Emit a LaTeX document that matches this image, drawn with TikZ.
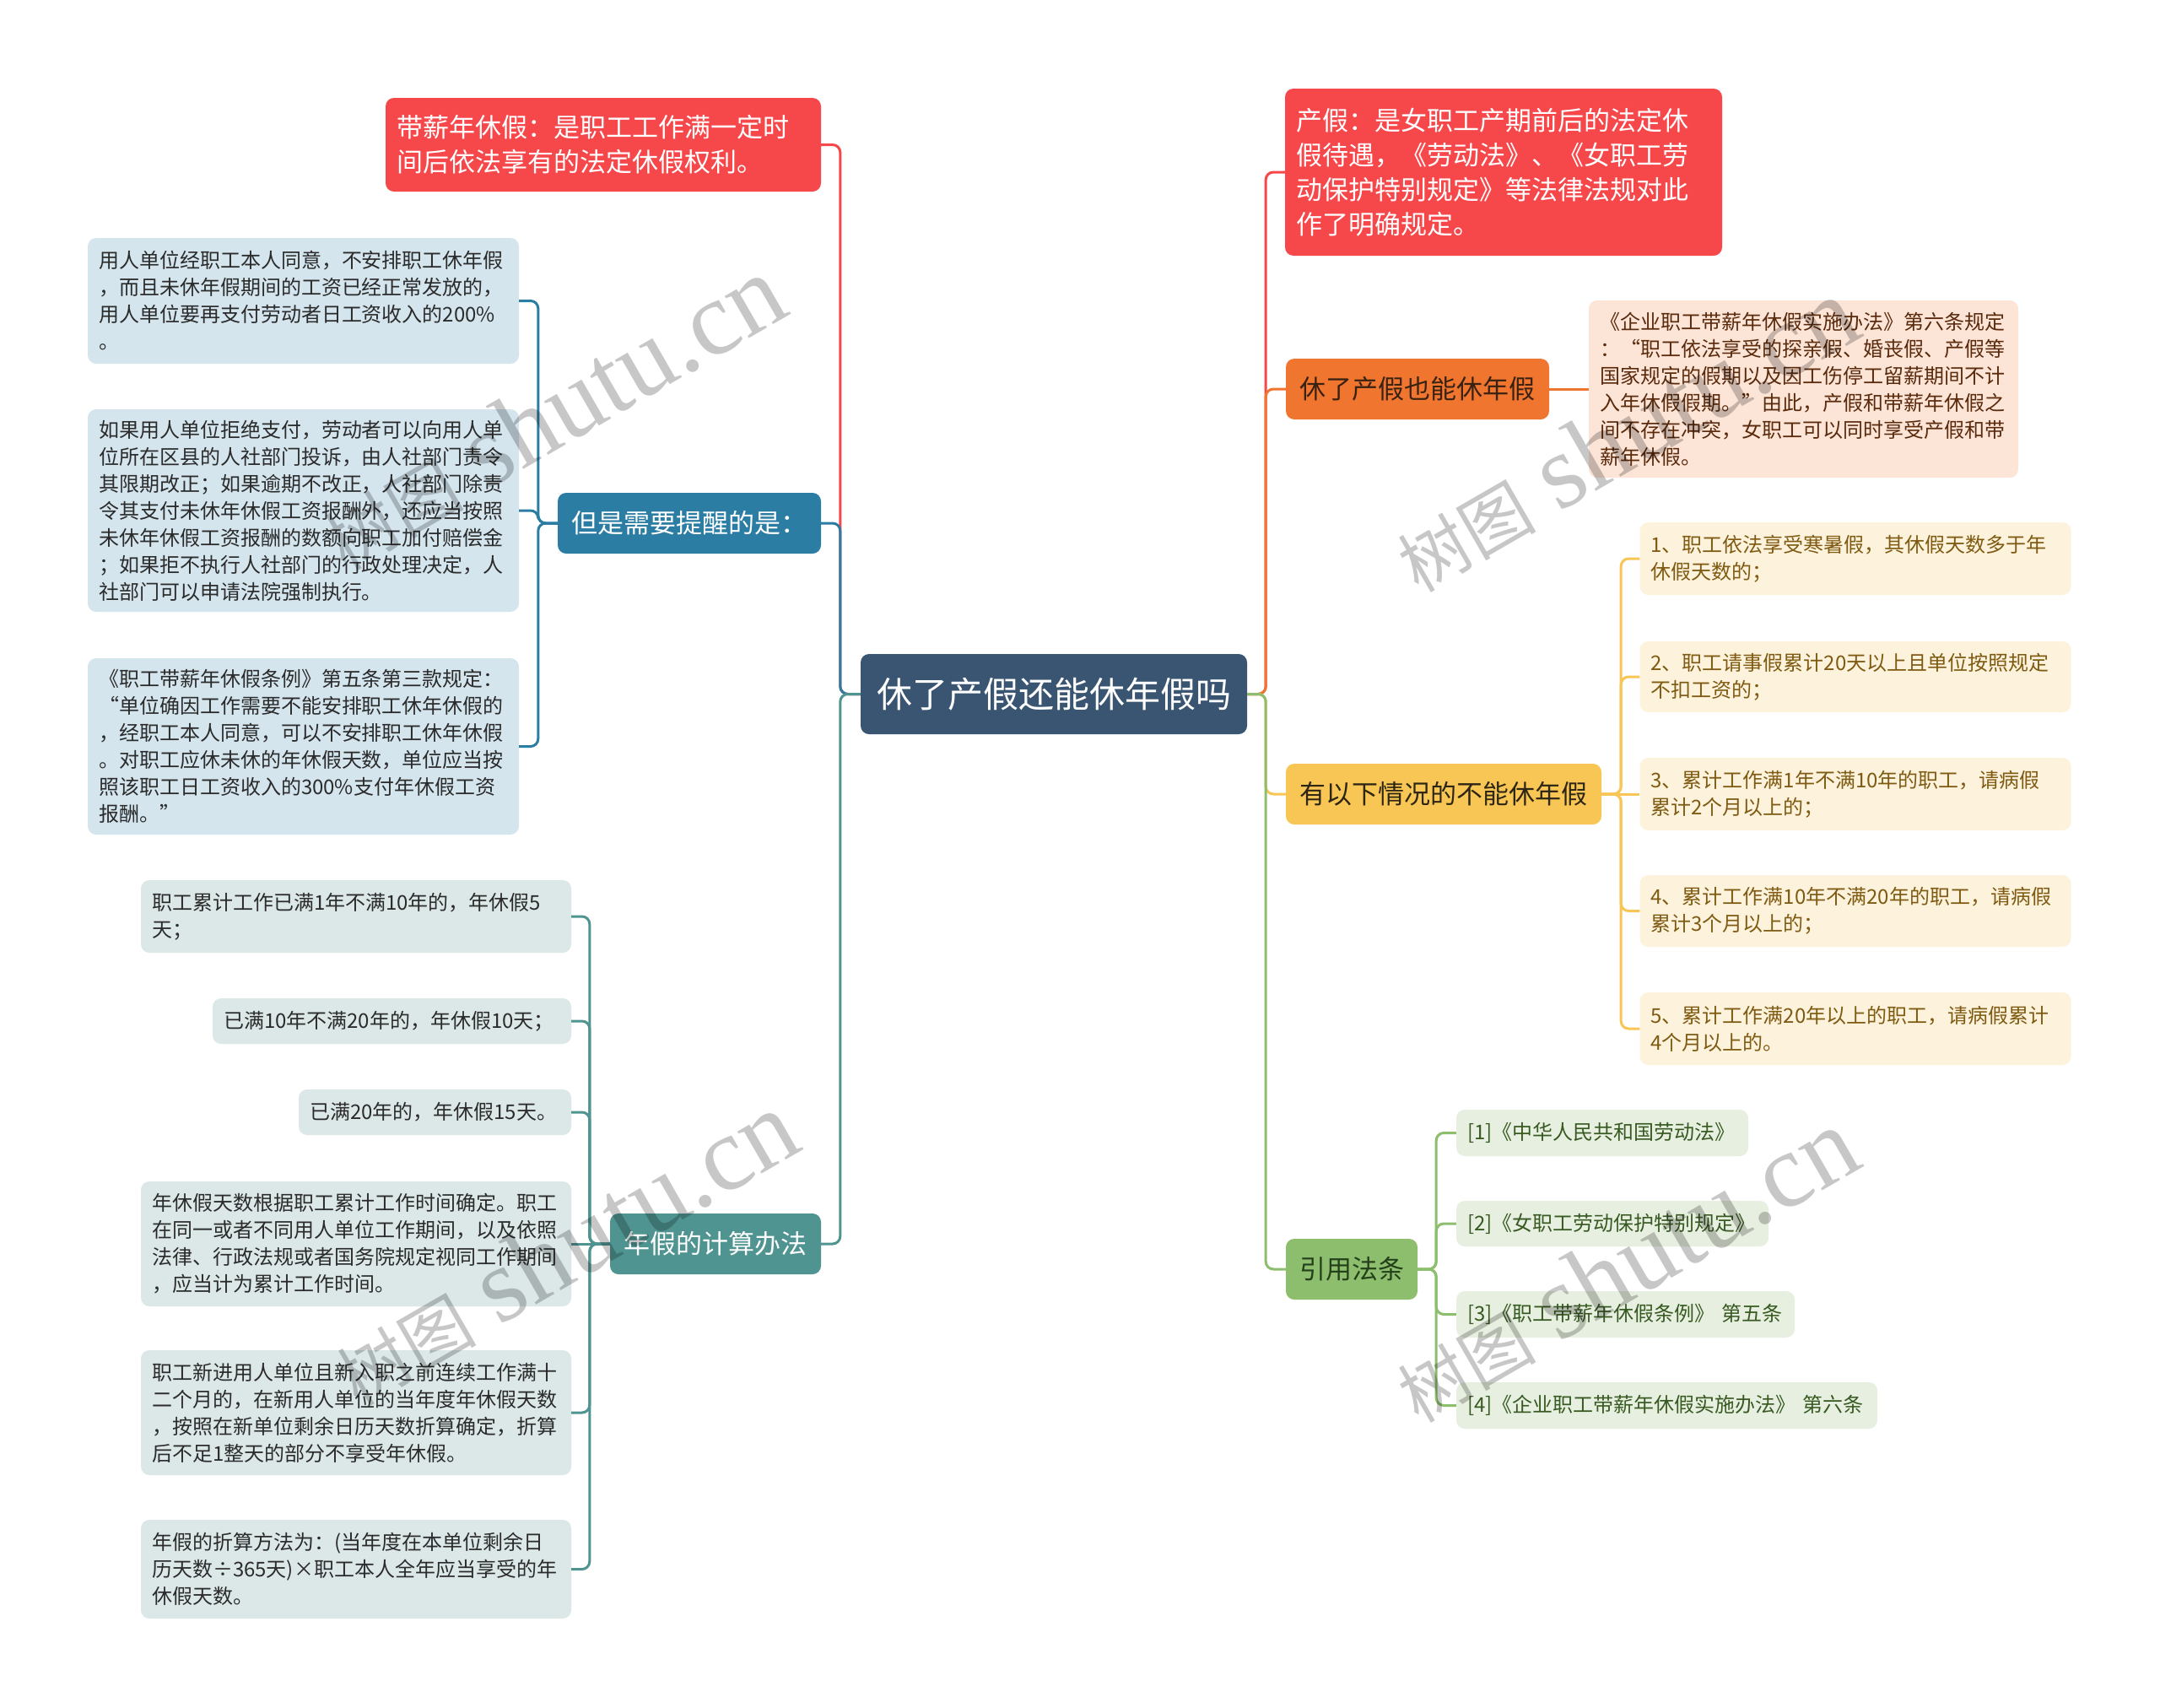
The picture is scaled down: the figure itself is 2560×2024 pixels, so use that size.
\documentclass[tikz,border=0pt]{standalone}
\usepackage{fontspec}
\setmainfont{Noto Sans CJK SC}
\newfontfamily\wmfont{Liberation Serif}
\usepackage{tikz}
\definecolor{rootbg}{HTML}{395571}
\definecolor{redbr}{HTML}{F6484B}
\definecolor{bluebr}{HTML}{2B7DA3}
\definecolor{bluelf}{HTML}{D4E5EE}
\definecolor{tealbr}{HTML}{4F9490}
\definecolor{teallf}{HTML}{DCE8E8}
\definecolor{orgbr}{HTML}{F07630}
\definecolor{orgdk}{HTML}{3A2212}
\definecolor{orglf}{HTML}{FCE4D6}
\definecolor{orgtx}{HTML}{5A2A0C}
\definecolor{yelbr}{HTML}{F8C655}
\definecolor{yeldk}{HTML}{2E2614}
\definecolor{yellf}{HTML}{FDF3DC}
\definecolor{yeltx}{HTML}{7F5A12}
\definecolor{grnbr}{HTML}{8DBE6E}
\definecolor{grndk}{HTML}{24401A}
\definecolor{grnlf}{HTML}{E7F0E0}
\definecolor{grntx}{HTML}{385A22}
\definecolor{darktx}{HTML}{2B2B2B}
\newcommand\txS{\fontsize{24}{32}\selectfont}
\newcommand\txM{\fontsize{31}{41}\selectfont}
\newcommand\txL{\fontsize{42}{50}\selectfont}

\begin{document}
\begin{tikzpicture}[x=1pt, y=-1pt,
    box/.style={rounded corners=10pt, inner sep=0pt},
    sz/.style 2 args={minimum width=#1pt, minimum height=#2pt, text width=#1pt-26pt},
    mn/.style={box, font=\txM, minimum height=72pt},
    lf/.style={box, align=left, font=\txS},
    blf/.style={lf, fill=bluelf, text=darktx},
    tlf/.style={lf, fill=teallf, text=darktx},
    plf/.style={lf, fill=orglf, text=orgtx},
    ylf/.style={lf, fill=yellf, text=yeltx},
    glf/.style={lf, fill=grnlf, text=grntx},
    lk/.style={line width=3pt, rounded corners=9pt},
    wm/.style={rotate=30, inner sep=0pt, text=black, text opacity=0.22}]
  \fill[white] (0,0) rectangle (2560,2024);
  \useasboundingbox (0,0) rectangle (2560,2024);
  % centre
  \node[box, fill=rootbg, text=white, font=\txL, minimum width=458pt,
    minimum height=95pt] (root) at (1249,822.5) {休了产假还能休年假吗};
  % left branches
  \node[mn, fill=redbr, text=white, align=left, sz={516}{111}] (lr) at (715,171.5)
    {带薪年休假：是职工工作满一定时\\间后依法享有的法定休假权利。};
  \node[mn, fill=bluebr, text=white, minimum width=312pt] (bl) at (817,620) {但是需要提醒的是：};
  \node[mn, fill=tealbr, text=white, minimum width=250pt] (tl) at (848,1474) {年假的计算办法};
  % blue leaves
  \node[blf, sz={511}{149}] (b1) at (359.5,356.5)
    {用人单位经职工本人同意，不安排职工休年假\\，而且未休年假期间的工资已经正常发放的，\\用人单位要再支付劳动者日工资收入的200\%\\。};
  \node[blf, sz={511}{240}] (b2) at (359.5,605)
    {如果用人单位拒绝支付，劳动者可以向用人单\\位所在区县的人社部门投诉，由人社部门责令\\其限期改正；如果逾期不改正，人社部门除责\\令其支付未休年休假工资报酬外，还应当按照\\未休年休假工资报酬的数额向职工加付赔偿金\\；如果拒不执行人社部门的行政处理决定，人\\社部门可以申请法院强制执行。};
  \node[blf, sz={511}{209}] (b3) at (359.5,884.5)
    {《职工带薪年休假条例》第五条第三款规定：\\“单位确因工作需要不能安排职工休年休假的\\，经职工本人同意，可以不安排职工休年休假\\。对职工应休未休的年休假天数，单位应当按\\照该职工日工资收入的300\%支付年休假工资\\报酬。”};
  % teal leaves
  \node[tlf, sz={510}{86}] (t1) at (422,1086) {职工累计工作已满1年不满10年的，年休假5\\天；};
  \node[tlf, sz={425}{54}] (t2) at (464.5,1210) {已满10年不满20年的，年休假10天；};
  \node[tlf, sz={323}{54}] (t3) at (515.5,1318) {已满20年的，年休假15天。};
  \node[tlf, sz={510}{148}] (t4) at (422,1474)
    {年休假天数根据职工累计工作时间确定。职工\\在同一或者不同用人单位工作期间，以及依照\\法律、行政法规或者国务院规定视同工作期间\\，应当计为累计工作时间。};
  \node[tlf, sz={510}{148}] (t5) at (422,1674)
    {职工新进用人单位且新入职之前连续工作满十\\二个月的，在新用人单位的当年度年休假天数\\，按照在新单位剩余日历天数折算确定，折算\\后不足1整天的部分不享受年休假。};
  \node[tlf, sz={510}{117}] (t6) at (422,1859.5)
    {年假的折算方法为：(当年度在本单位剩余日\\历天数÷365天)×职工本人全年应当享受的年\\休假天数。};
  % right branches
  \node[mn, fill=redbr, text=white, align=left, sz={518}{198}] (rr) at (1782,204)
    {产假：是女职工产期前后的法定休\\假待遇，《劳动法》、《女职工劳\\动保护特别规定》等法律法规对此\\作了明确规定。};
  \node[mn, fill=orgbr, text=orgdk, minimum width=312pt] (og) at (1680,461) {休了产假也能休年假};
  \node[mn, fill=yelbr, text=yeldk, minimum width=374pt] (yl) at (1711,941) {有以下情况的不能休年假};
  \node[mn, fill=grnbr, text=grndk, minimum width=156pt] (gr) at (1602,1504) {引用法条};
  % peach note
  \node[plf, sz={509}{210}] (pc) at (2137.5,461)
    {《企业职工带薪年休假实施办法》第六条规定\\：“职工依法享受的探亲假、婚丧假、产假等\\国家规定的假期以及因工伤停工留薪期间不计\\入年休假假期。”由此，产假和带薪年休假之\\间不存在冲突，女职工可以同时享受产假和带\\薪年休假。};
  % yellow leaves
  \node[ylf, sz={511}{86}] (y1) at (2199,662) {1、职工依法享受寒暑假，其休假天数多于年\\休假天数的；};
  \node[ylf, sz={511}{84}] (y2) at (2199,802) {2、职工请事假累计20天以上且单位按照规定\\不扣工资的；};
  \node[ylf, sz={511}{86}] (y3) at (2199,941) {3、累计工作满1年不满10年的职工，请病假\\累计2个月以上的；};
  \node[ylf, sz={511}{85}] (y4) at (2199,1079.5) {4、累计工作满10年不满20年的职工，请病假\\累计3个月以上的；};
  \node[ylf, sz={511}{86}] (y5) at (2199,1219) {5、累计工作满20年以上的职工，请病假累计\\4个月以上的。};
  % green leaves
  \node[glf, sz={346}{55}] (g1) at (1899,1342.5) {[1]《中华人民共和国劳动法》};
  \node[glf, sz={370}{54}] (g2) at (1911,1450) {[2]《女职工劳动保护特别规定》};
  \node[glf, sz={401}{55}] (g3) at (1926.5,1557.5) {[3]《职工带薪年休假条例》~第五条};
  \node[glf, sz={499}{55}] (g4) at (1975.5,1665.5) {[4]《企业职工带薪年休假实施办法》~第六条};
  % links
  \foreach \c/\k in {lr/redbr, bl/bluebr, tl/tealbr}
    \draw[lk, draw=\k] (root.west) -- ++(-24,0) |- (\c.east);
  \foreach \c/\k in {rr/redbr, og/orgbr, yl/yelbr, gr/grnbr}
    \draw[lk, draw=\k] (root.east) -- ++(22,0) |- (\c.west);
  \foreach \c in {b1,b2,b3} \draw[lk, bluebr] (bl.west) -- ++(-23,0) |- (\c.east);
  \foreach \c in {t1,t2,t3,t5,t6} \draw[lk, tealbr] (tl.west) -- ++(-24,0) |- (\c.east);
  \draw[lk, tealbr] (tl.west) -- (t4.east);
  \draw[lk, orgbr] (og.east) -- (pc.west);
  \foreach \c in {y1,y2,y4,y5} \draw[lk, yelbr] (yl.east) -- ++(23,0) |- (\c.west);
  \draw[lk, yelbr] (yl.east) -- (y3.west);
  \foreach \c in {g1,g2,g3,g4} \draw[lk, grnbr] (gr.east) -- ++(22,0) |- (\c.west);
  % watermark
  \foreach \n/\x/\y in {1/655/490, 2/670/1480, 3/1926/516, 4/1926/1500}
    \node[wm] (wm\n) at (\x,\y) {{\fontsize{82}{82}\selectfont 树图\hspace{28pt}}{\wmfont\fontsize{125}{125}\selectfont shutu.cn}};
\end{tikzpicture}
\end{document}
